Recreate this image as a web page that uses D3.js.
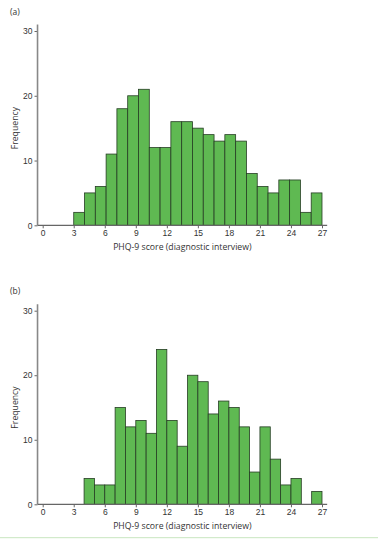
<!DOCTYPE html>
<html>
<head>
<meta charset="utf-8">
<script src="https://cdn.jsdelivr.net/npm/d3@7"></script>
<style>
  body { margin: 0; background: #fff; }
  svg { display: block; font-family: "Open Sans", sans-serif; }
  .tick text { fill: #333; font-size: 8.5px; }
  .tick line { stroke: #666; }
</style>
</head>
<body>
<svg id="chart" width="378" height="543"></svg>
<script>
// PHQ-9 histograms: (a) and (b)
const xTicks = [0, 3, 6, 9, 12, 15, 18, 21, 24, 27];
const yTicks = [0, 10, 20, 30];

// panel (a): 23 equal bins from 3 to 27
const countsA = [2, 5, 6, 11, 18, 20, 21, 12, 12, 16, 16, 15, 14, 13, 14, 13, 8, 6, 5, 7, 7, 2, 5];
const rangeA = [3, 27];

// panel (b): 23 equal bins from 4 to 27
const countsB = [4, 3, 3, 15, 12, 13, 11, 24, 13, 9, 20, 19, 14, 16, 15, 12, 5, 12, 7, 3, 4, 0, 2];
const rangeB = [4, 27];

const svg = d3.select('#chart');

const x = d3.scaleLinear().domain([0, 27]).range([42.7, 322]);

function drawPanel(label, counts, range, top, bottom, labelY) {
  const y = d3.scaleLinear().domain([0, 30]).range([bottom, top]);
  const w = (range[1] - range[0]) / counts.length;
  const bins = counts.map((c, i) => ({ x0: range[0] + i * w, x1: range[0] + (i + 1) * w, n: c }));

  const g = svg.append('g');

  g.append('text')
    .attr('x', 10).attr('y', labelY)
    .attr('font-size', 8.5).attr('fill', '#333')
    .text(label);

  g.selectAll('rect.bar')
    .data(bins.filter(d => d.n > 0))
    .enter()
    .append('rect')
    .attr('class', 'bar')
    .attr('x', d => x(d.x0))
    .attr('width', d => x(d.x1) - x(d.x0))
    .attr('y', d => y(d.n))
    .attr('height', d => y(0) - y(d.n))
    .attr('fill', '#5fb952')
    .attr('stroke', '#263d24')
    .attr('stroke-width', 0.8);

  // axes
  const yAxis = g.append('g')
    .attr('transform', `translate(${x(-0.5)},0)`)
    .call(d3.axisLeft(y).tickValues(yTicks).tickSize(3).tickPadding(2).tickSizeOuter(0));
  yAxis.select('.domain').remove();

  const xAxis = g.append('g')
    .attr('transform', `translate(0,${y(0)})`)
    .call(d3.axisBottom(x).tickValues(xTicks).tickSize(3).tickPadding(2).tickSizeOuter(0));
  xAxis.select('.domain').remove();

  g.append('line')
    .attr('x1', x(-0.5)).attr('x2', x(-0.5))
    .attr('y1', y(0)).attr('y2', y(31))
    .attr('stroke', '#888').attr('stroke-width', 1.6);
  g.append('line')
    .attr('x1', x(-0.5)).attr('x2', x(27.5))
    .attr('y1', y(0)).attr('y2', y(0))
    .attr('stroke', '#666').attr('stroke-width', 1.2);

  g.append('text')
    .attr('x', (x(0) + x(27)) / 2).attr('y', y(0) + 24.5)
    .attr('text-anchor', 'middle')
    .attr('font-size', 8.7).attr('fill', '#333')
    .text('PHQ-9 score (diagnostic interview)');

  g.append('text')
    .attr('transform', `translate(18,${(y(0) + y(30)) / 2}) rotate(-90)`)
    .attr('text-anchor', 'middle')
    .attr('font-size', 8.7).attr('fill', '#333')
    .text('Frequency');
}

drawPanel('(a)', countsA, rangeA, 31, 225.3, 15);
drawPanel('(b)', countsB, rangeB, 310.7, 504.3, 294);

// caption rule + clipped caption
svg.append('line')
  .attr('x1', 0).attr('x2', 378).attr('y1', 537.7).attr('y2', 537.7)
  .attr('stroke', '#c8e6bf').attr('stroke-width', 1);
svg.append('text')
  .attr('x', 0).attr('y', 548)
  .attr('font-size', 8).attr('fill', '#444')
  .text('ribution of PHQ-9 scores at the diagnostic interview (a) in the sample of all participants and (b) in the subsample');
</script>
</body>
</html>
